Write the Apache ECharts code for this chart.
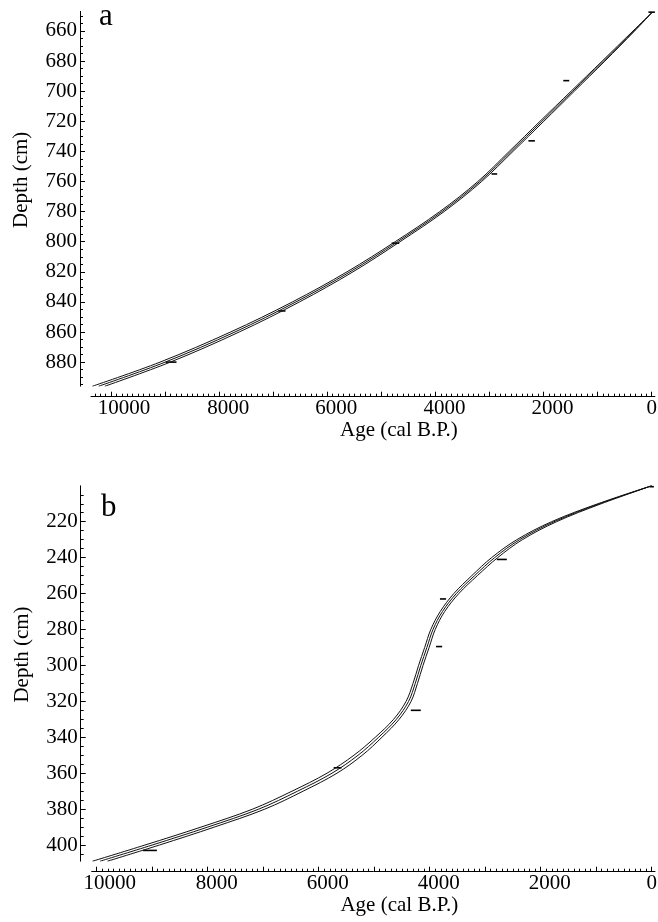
<!DOCTYPE html>
<html>
<head>
<meta charset="utf-8"/>
<title>Age-depth models</title>
<script src="https://cdn.jsdelivr.net/npm/echarts@6/dist/echarts.min.js"></script>
<style>html,body{margin:0;padding:0;background:#fff;}</style>
</head>
<body>
<div id="chart" style="width:658px;height:922px;"></div>
<script>
// panel a : age-depth model (mid curve and its two bounds), depth in cm, age in cal B.P.
var depthA    = [648, 660, 680, 700, 720, 740, 760, 780, 800, 820, 840, 860, 880, 896];
var ageMidA   = [0, 330, 890, 1460, 2030, 2600, 3180, 3880, 4700, 5580, 6580, 7710, 9000, 10230];
var ageOldA   = [0, 345, 915, 1490, 2065, 2635, 3215, 3920, 4745, 5635, 6645, 7790, 9095, 10345];
var ageYoungA = [0, 315, 865, 1430, 1995, 2565, 3145, 3840, 4655, 5525, 6515, 7630, 8905, 10115];
// dated levels of panel a (age, half range, depth)
var dateAgeA   = [0, 1580, 2220, 2910, 4740, 6840, 8890];
var dateErrA   = [60, 55, 60, 52, 70, 66, 100];
var dateDepthA = [647.5, 693, 733, 755, 801, 846, 880];

// panel b
var depthB    = [200, 210, 220, 230, 240, 250, 260, 270, 280, 290, 300, 310, 320, 330, 340, 350, 360, 370, 380, 390, 400, 409];
var ageMidB   = [0, 940, 1760, 2380, 2830, 3190, 3520, 3770, 3940, 4050, 4160, 4260, 4380, 4600, 4920, 5290, 5760, 6380, 7080, 8000, 9000, 9940];
var ageOldB   = [0, 970, 1805, 2430, 2885, 3240, 3565, 3810, 3980, 4090, 4200, 4300, 4425, 4650, 4980, 5365, 5850, 6480, 7190, 8120, 9130, 10075];
var ageYoungB = [0, 910, 1715, 2330, 2775, 3140, 3475, 3730, 3900, 4010, 4120, 4220, 4335, 4550, 4860, 5215, 5670, 6280, 6970, 7880, 8870, 9805];
var dateAgeB   = [0, 2700, 3760, 3830, 4250, 5660, 9040];
var dateErrB   = [40, 90, 55, 55, 90, 70, 125];
var dateDepthB = [200.5, 241, 263, 289.5, 325, 357, 403];

// ticks
var ageTicks    = [0, 1000, 2000, 3000, 4000, 5000, 6000, 7000, 8000, 9000, 10000];
var ageLabels   = [0, 2000, 4000, 6000, 8000, 10000];
var depthTicksA = [660, 680, 700, 720, 740, 760, 780, 800, 820, 840, 860, 880];
var depthTicksB = [220, 240, 260, 280, 300, 320, 340, 360, 380, 400];

var ageMinor = [];
for (var t = 100; t <= 10300; t += 100) ageMinor.push(t);
var depthMinorA = [];
for (var t = 650; t <= 895; t += 5) depthMinorA.push(t);
var depthMinorB = [];
for (var t = 205; t <= 405; t += 5) depthMinorB.push(t);

var FONT = 'Liberation Serif';
var txt = {fontFamily: FONT, fontSize: 21, color: '#000'};

function pairs(ages, depths) {
  return depths.map(function (d, i) { return [ages[i], d]; });
}
function dates(ages, errs, depths) {
  return ages.map(function (a, i) { return [a, errs[i], depths[i]]; });
}

function ageAxes(grid, max) {
  var base = {
    gridIndex: grid, type: 'value', min: -60, max: max, inverse: true,
    position: 'bottom', offset: 10.5, splitLine: {show: false}
  };
  return [
    Object.assign({}, base, {
      name: 'Age (cal B.P.)', nameLocation: 'middle', nameGap: 15,
      nameTextStyle: Object.assign({}, txt, {padding: [0, 0, 0, 52]}),
      axisLine: {onZero: false, lineStyle: {color: '#000', width: 1}},
      axisTick: {inside: true, length: 5, customValues: ageTicks, lineStyle: {color: '#000', width: 1}},
      axisLabel: {
        customValues: ageLabels, margin: 1, hideOverlap: false,
        formatter: function (v) {
          if (v === 0) return '{z|0}';
          if (v === 10000) return '{w|' + v + '}';
          return '{s|' + v + '}';
        },
        rich: {
          z: txt,
          s: Object.assign({}, txt, {padding: [0, 0, 0, 18]}),
          w: Object.assign({}, txt, {padding: [0, 0, 0, 26]})
        }
      }
    }),
    Object.assign({}, base, {
      axisLine: {show: false, onZero: false},
      axisLabel: {show: false},
      axisTick: {inside: true, length: 3, customValues: ageMinor, lineStyle: {color: '#000', width: 1}}
    })
  ];
}

function depthAxes(grid, min, max, major, minor) {
  var base = {
    gridIndex: grid, type: 'value', min: min, max: max, inverse: true,
    position: 'left', offset: 11, splitLine: {show: false}
  };
  return [
    Object.assign({}, base, {
      name: 'Depth (cm)', nameLocation: 'middle', nameGap: 48,
      nameTextStyle: Object.assign({}, txt, {padding: [0, 0, 0, 38]}),
      axisLine: {onZero: false, lineStyle: {color: '#000', width: 1}},
      axisTick: {inside: true, length: 5, customValues: major, lineStyle: {color: '#000', width: 1}},
      axisLabel: Object.assign({}, txt, {customValues: major, margin: 3})
    }),
    Object.assign({}, base, {
      axisLine: {show: false, onZero: false},
      axisLabel: {show: false},
      axisTick: {inside: true, length: 3, customValues: minor, lineStyle: {color: '#000', width: 1}}
    })
  ];
}

function curve(ax, data) {
  return {
    type: 'line', xAxisIndex: ax, yAxisIndex: ax, data: data,
    showSymbol: false, smooth: 0.35, clip: true,
    lineStyle: {color: '#111', width: 1}
  };
}

function dashItem(params, api) {
  var a = api.value(0), e = api.value(1), d = api.value(2);
  var p1 = api.coord([a - e, d]);
  var p2 = api.coord([a + e, d]);
  return {
    type: 'line',
    shape: {x1: p1[0], y1: p1[1], x2: p2[0], y2: p2[1]},
    style: {stroke: '#000', lineWidth: 1.6}
  };
}

function dashes(ax, data) {
  return {
    type: 'custom', xAxisIndex: ax, yAxisIndex: ax, data: data,
    encode: {x: 0, y: 2}, renderItem: dashItem
  };
}

var chart = echarts.init(document.getElementById('chart'));
chart.setOption({
  animation: false,
  backgroundColor: '#fff',
  title: [
    {text: 'a', left: 99, top: 1, padding: 0, textStyle: {fontFamily: FONT, fontSize: 31, fontWeight: 'normal', color: '#000'}},
    {text: 'b', left: 101, top: 492, padding: 0, textStyle: {fontFamily: FONT, fontSize: 31, fontWeight: 'normal', color: '#000'}}
  ],
  grid: [
    {left: 91, top: 11.4, width: 563.9, height: 374.8, outerBoundsMode: 'none', containLabel: false},
    {left: 91.7, top: 485.8, width: 563.3, height: 375.4, outerBoundsMode: 'none', containLabel: false}
  ],
  xAxis: ageAxes(0, 10372).concat(ageAxes(1, 10090)),
  yAxis: depthAxes(0, 647, 896, depthTicksA, depthMinorA).concat(depthAxes(1, 200, 409, depthTicksB, depthMinorB)),
  series: [
    curve(0, pairs(ageOldA, depthA)),
    curve(0, pairs(ageMidA, depthA)),
    curve(0, pairs(ageYoungA, depthA)),
    dashes(0, dates(dateAgeA, dateErrA, dateDepthA)),
    curve(2, pairs(ageOldB, depthB)),
    curve(2, pairs(ageMidB, depthB)),
    curve(2, pairs(ageYoungB, depthB)),
    dashes(2, dates(dateAgeB, dateErrB, dateDepthB))
  ]
});
</script>
</body>
</html>
